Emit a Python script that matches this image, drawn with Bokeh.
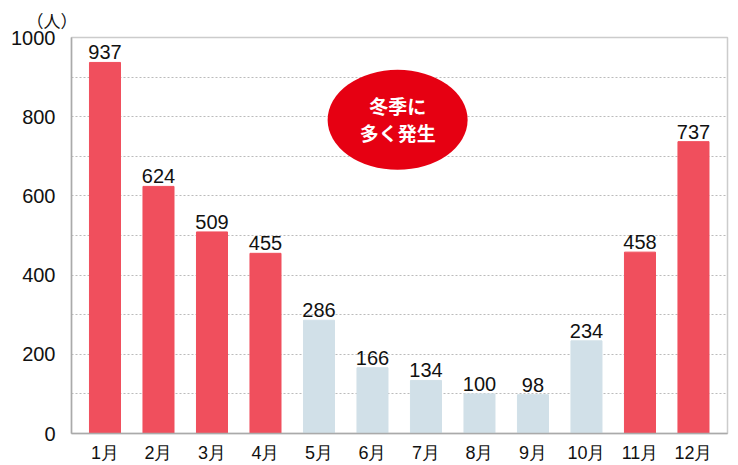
from bokeh.plotting import figure
from bokeh.models import ColumnDataSource, LabelSet, Label, FixedTicker, SingleIntervalTicker, Range1d
from bokeh.core.properties import value
from bokeh.embed import file_html
from bokeh.resources import INLINE

months = ["1月", "2月", "3月", "4月", "5月", "6月", "7月", "8月", "9月", "10月", "11月", "12月"]
patients = [937, 624, 509, 455, 286, 166, 134, 100, 98, 234, 458, 737]
winter = [True, True, True, True, False, False, False, False, False, False, True, True]
y_ticks = [0, 200, 400, 600, 800, 1000]

RED = "#f04f5d"
BLUE = "#d1e0e8"
NUM_FONT = "Liberation Sans"
JP_FONT = "Noto Sans CJK JP"

xs = list(range(1, len(months) + 1))
source = ColumnDataSource(dict(
    x=xs,
    y=patients,
    label=[str(v) for v in patients],
    color=[RED if w else BLUE for w in winter],
))

p = figure(width=730, height=465, output_backend="svg", toolbar_location=None,
           title="（人）",
           x_range=Range1d(0.374, 12.636), y_range=Range1d(0, 1000),
           min_border_left=71, min_border_right=3, min_border_top=36, min_border_bottom=32)

p.title.align = "left"
p.title.offset = -45
p.title.text_font = JP_FONT
p.title.text_font_size = "17px"
p.title.text_font_style = "normal"
p.title.text_color = "#111111"

p.vbar(x="x", top="y", width=0.58, color="color", source=source)

# 棒の上の数値
p.add_layout(LabelSet(x="x", y="y", text="label", source=source, text_align="center",
                      text_baseline="alphabetic", y_offset=3, text_font_size="20px",
                      text_font=value(NUM_FONT), text_color="#111111"))

# 吹き出し
p.ellipse(x=6.47, y=792, width=140, height=100, width_units="screen", height_units="screen",
          fill_color="#e60012", line_color=None)
p.add_layout(Label(x=6.47, y=792, text="冬季に", text_align="center", text_baseline="middle",
                   y_offset=14, text_font=JP_FONT, text_font_size="19px", text_font_style="bold",
                   text_color="white"))
p.add_layout(Label(x=6.47, y=792, text="多く発生", text_align="center", text_baseline="middle",
                   y_offset=-13, text_font=JP_FONT, text_font_size="19px", text_font_style="bold",
                   text_color="white"))

p.xaxis.ticker = FixedTicker(ticks=xs)
p.xaxis.major_label_overrides = {x: m for x, m in zip(xs, months)}
p.yaxis.ticker = FixedTicker(ticks=y_ticks)

for ax in (p.xaxis, p.yaxis):
    ax.axis_line_color = "#aaaaaa"
    ax.axis_line_width = 1.5
    ax.major_tick_line_color = None
    ax.minor_tick_line_color = None
    ax.major_label_text_font = NUM_FONT
    ax.major_label_text_color = "#111111"

p.xaxis.major_label_text_font_size = "18px"
p.xaxis.major_label_standoff = 3
p.yaxis.major_label_text_font_size = "20px"
p.yaxis.major_label_standoff = 10

p.xgrid.grid_line_color = None
p.ygrid.ticker = SingleIntervalTicker(interval=100)
p.ygrid.grid_line_color = "#bbbbbb"
p.ygrid.grid_line_dash = "2 2"
p.ygrid.grid_line_width = 1

p.outline_line_color = "#cccccc"
p.outline_line_width = 1.5
p.background_fill_color = "white"
p.border_fill_color = "white"

open("out.html", "w").write(file_html(p, INLINE))
